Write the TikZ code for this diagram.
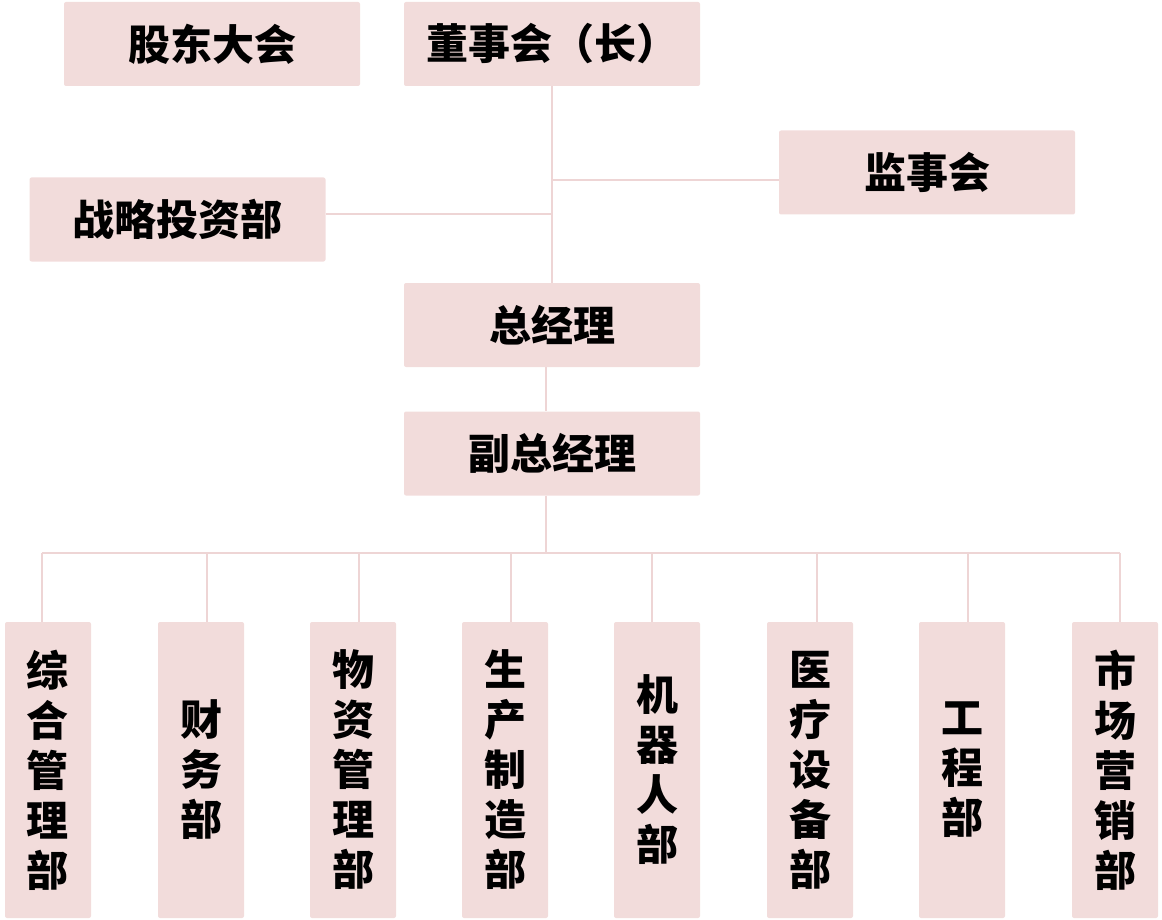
\documentclass[tikz,border=0pt]{standalone}
\usepackage{fontspec}
\newfontfamily\cjk{Noto Sans CJK SC}
\definecolor{boxpink}{HTML}{F2DCDB}
\definecolor{linepink}{HTML}{EED5D5}
\begin{document}
\begin{tikzpicture}[x=1pt,y=-1pt,
  box/.style={fill=boxpink, rounded corners=2pt, inner sep=0pt, text=black,
    font=\cjk\bfseries\fontsize{42}{50}\selectfont},
  wide/.style={box, minimum width=296pt, minimum height=84pt},
  tall/.style={box, minimum width=86pt, minimum height=296pt, align=center},
  link/.style={draw=linepink, line width=2pt}]
\useasboundingbox (0,0) rectangle (1162,920);

% top level
\node[wide] (gd) at (212,44) {股东大会};
\node[wide] (ds) at (552,44) {董事会（长）};
\node[wide] (js) at (927,172.5) {监事会};
\node[wide] (zl) at (177.5,219.5) {战略投资部};
\node[wide] (zj) at (552,325) {总经理};
\node[wide] (fz) at (552,453.5) {副总经理};

% departments
\node[tall] (b1) at (48,770)   {综\\合\\管\\理\\部};
\node[tall] (b2) at (201,770)  {财\\务\\部};
\node[tall] (b3) at (353,770)  {物\\资\\管\\理\\部};
\node[tall] (b4) at (505,770)  {生\\产\\制\\造\\部};
\node[tall] (b5) at (657,770)  {机\\器\\人\\部};
\node[tall] (b6) at (810,770)  {医\\疗\\设\\备\\部};
\node[tall] (b7) at (962,770)  {工\\程\\部};
\node[tall] (b8) at (1115,770) {市\\场\\营\\销\\部};

% connectors
\coordinate (t1) at (552,214);
\coordinate (t2) at (552,180);
\draw[link] (ds.south) -- (zj.north);
\draw[link] (zl.east |- t1) -- (t1);
\draw[link] (t2) -- (js.west |- t2);

\coordinate (busC) at (546,553);
\draw[link] (zj.south -| busC) -- (fz.north -| busC);
\draw[link] (fz.south -| busC) -- (busC);

\coordinate (d1) at (42,553);
\coordinate (d2) at (207,553);
\coordinate (d3) at (359,553);
\coordinate (d4) at (511,553);
\coordinate (d5) at (652,553);
\coordinate (d6) at (817,553);
\coordinate (d7) at (968,553);
\coordinate (d8) at (1120,553);
\draw[link] (d1) -- (d8);
\foreach \i in {1,...,8} {
  \draw[link] (d\i) -- (b\i.north -| d\i);
}
\end{tikzpicture}
\end{document}
